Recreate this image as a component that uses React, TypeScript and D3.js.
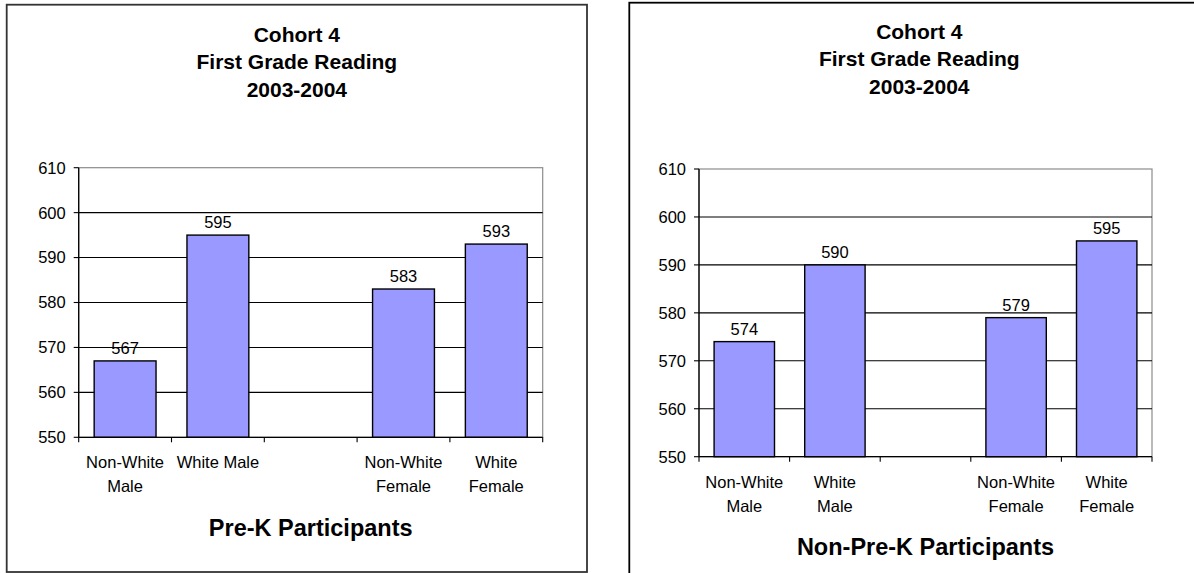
import React from 'react';
import * as d3 from 'd3';

// category labels (each entry = lines of the label); middle slot is an empty gap
const preKCategories = [['Non-White', 'Male'], ['White Male'], [], ['Non-White', 'Female'], ['White', 'Female']];
const nonPreKCategories = [['Non-White', 'Male'], ['White', 'Male'], [], ['Non-White', 'Female'], ['White', 'Female']];

const preKScores = [567, 595, null, 583, 593];
const nonPreKScores = [574, 590, null, 579, 595];

const yTicks = [550, 560, 570, 580, 590, 600, 610];
const titleLines = ['Cohort 4', 'First Grade Reading', '2003-2004'];

const FONT = '"Liberation Sans", Arial, Helvetica, sans-serif';

type Box = { x: number; y: number; w: number; h: number };
type Plot = { left: number; top: number; right: number; bottom: number };

type ChartProps = {
  frame: Box;
  frameColor: string;
  plot: Plot;
  titleTop: number;
  categories: string[][];
  values: (number | null)[];
  axisTitle: string;
};

const BarChart = ({ frame, frameColor, plot, titleTop, categories, values, axisTitle }: ChartProps) => {
  const idx = categories.map((_, i) => String(i));

  const yScale = d3.scaleLinear()
    .domain([yTicks[0], yTicks[yTicks.length - 1]])
    .range([plot.bottom, plot.top]);

  // Excel-like gap width 50%: bar = 2/3 of the category step
  const xBar = d3.scaleBand()
    .domain(idx)
    .range([plot.left, plot.right])
    .paddingInner(1 / 3)
    .paddingOuter(1 / 6);

  const xCat = d3.scaleBand()
    .domain(idx)
    .range([plot.left, plot.right]);

  const step = xCat.step();
  const boundaries = d3.range(categories.length + 1).map(i => plot.left + i * step);
  const titleX = frame.x + frame.w / 2;
  const plotMid = (plot.left + plot.right) / 2;

  return (
    <g fontFamily={FONT}>
      <rect x={frame.x} y={frame.y} width={frame.w} height={frame.h}
        fill="#fff" stroke={frameColor} strokeWidth={1.8} />

      {titleLines.map((t, i) => (
        <text key={t} x={titleX} y={titleTop + i * 27.7 + 7.5} textAnchor="middle"
          fontSize={21} fontWeight="bold" fill="#000">{t}</text>
      ))}

      {/* plot area outline (top and right in grey) */}
      <rect x={plot.left} y={plot.top} width={plot.right - plot.left} height={plot.bottom - plot.top}
        fill="#fff" stroke="#8c8c8c" strokeWidth={1.2} />

      {/* gridlines */}
      {yTicks.slice(1, -1).map(v => (
        <line key={v} x1={plot.left} x2={plot.right} y1={yScale(v)} y2={yScale(v)}
          stroke="#000" strokeWidth={1.1} />
      ))}

      {/* bars */}
      {values.map((v, i) => v == null ? null : (
        <rect key={i} x={xBar(String(i))} y={yScale(v)} width={xBar.bandwidth()}
          height={plot.bottom - yScale(v)} fill="#9999ff" stroke="#000" strokeWidth={1.4} />
      ))}

      {/* value labels */}
      {values.map((v, i) => v == null ? null : (
        <text key={i} x={(xCat(String(i)) as number) + step / 2} y={yScale(v) - 7}
          textAnchor="middle" fontSize={16.5} fill="#000">{d3.format('d')(v)}</text>
      ))}

      {/* y axis */}
      <line x1={plot.left} x2={plot.left} y1={plot.top} y2={plot.bottom} stroke="#000" strokeWidth={1.3} />
      {yTicks.map(v => (
        <g key={v}>
          <line x1={plot.left - 5} x2={plot.left} y1={yScale(v)} y2={yScale(v)} stroke="#000" strokeWidth={1.1} />
          <text x={plot.left - 13} y={yScale(v) + 5.9} textAnchor="end" fontSize={16.5} fill="#000">{v}</text>
        </g>
      ))}

      {/* x axis */}
      <line x1={plot.left} x2={plot.right} y1={plot.bottom} y2={plot.bottom} stroke="#000" strokeWidth={1.3} />
      {boundaries.map((bx, i) => (
        <line key={i} x1={bx} x2={bx} y1={plot.bottom} y2={plot.bottom + 5} stroke="#000" strokeWidth={1.1} />
      ))}
      {categories.map((lines, i) => lines.map((l, j) => (
        <text key={`${i}-${j}`} x={(xCat(String(i)) as number) + step / 2}
          y={plot.bottom + 25 + 5.9 + j * 24} textAnchor="middle" fontSize={16.5} fill="#000">{l}</text>
      )))}

      <text x={plotMid} y={plot.bottom + 90 + 8.4} textAnchor="middle" fontSize={23.5}
        fontWeight="bold" fill="#000">{axisTitle}</text>
    </g>
  );
};

export default function App() {
  return (
    <svg width={1194} height={573} style={{ position: 'absolute', left: 0, top: 0, background: '#fff' }}>
      <rect width={1194} height={573} fill="#fff" />
      <BarChart
        frame={{ x: 6.7, y: 4.7, w: 580.3, h: 567.3 }}
        frameColor="#333"
        plot={{ left: 78.7, top: 167.7, right: 542.7, bottom: 437.3 }}
        titleTop={34}
        categories={preKCategories}
        values={preKScores}
        axisTitle="Pre-K Participants"
      />
      <BarChart
        frame={{ x: 629.3, y: 2.7, w: 580, h: 600 }}
        frameColor="#000"
        plot={{ left: 699, top: 169, right: 1152, bottom: 456.7 }}
        titleTop={31}
        categories={nonPreKCategories}
        values={nonPreKScores}
        axisTitle="Non-Pre-K Participants"
      />
    </svg>
  );
}
